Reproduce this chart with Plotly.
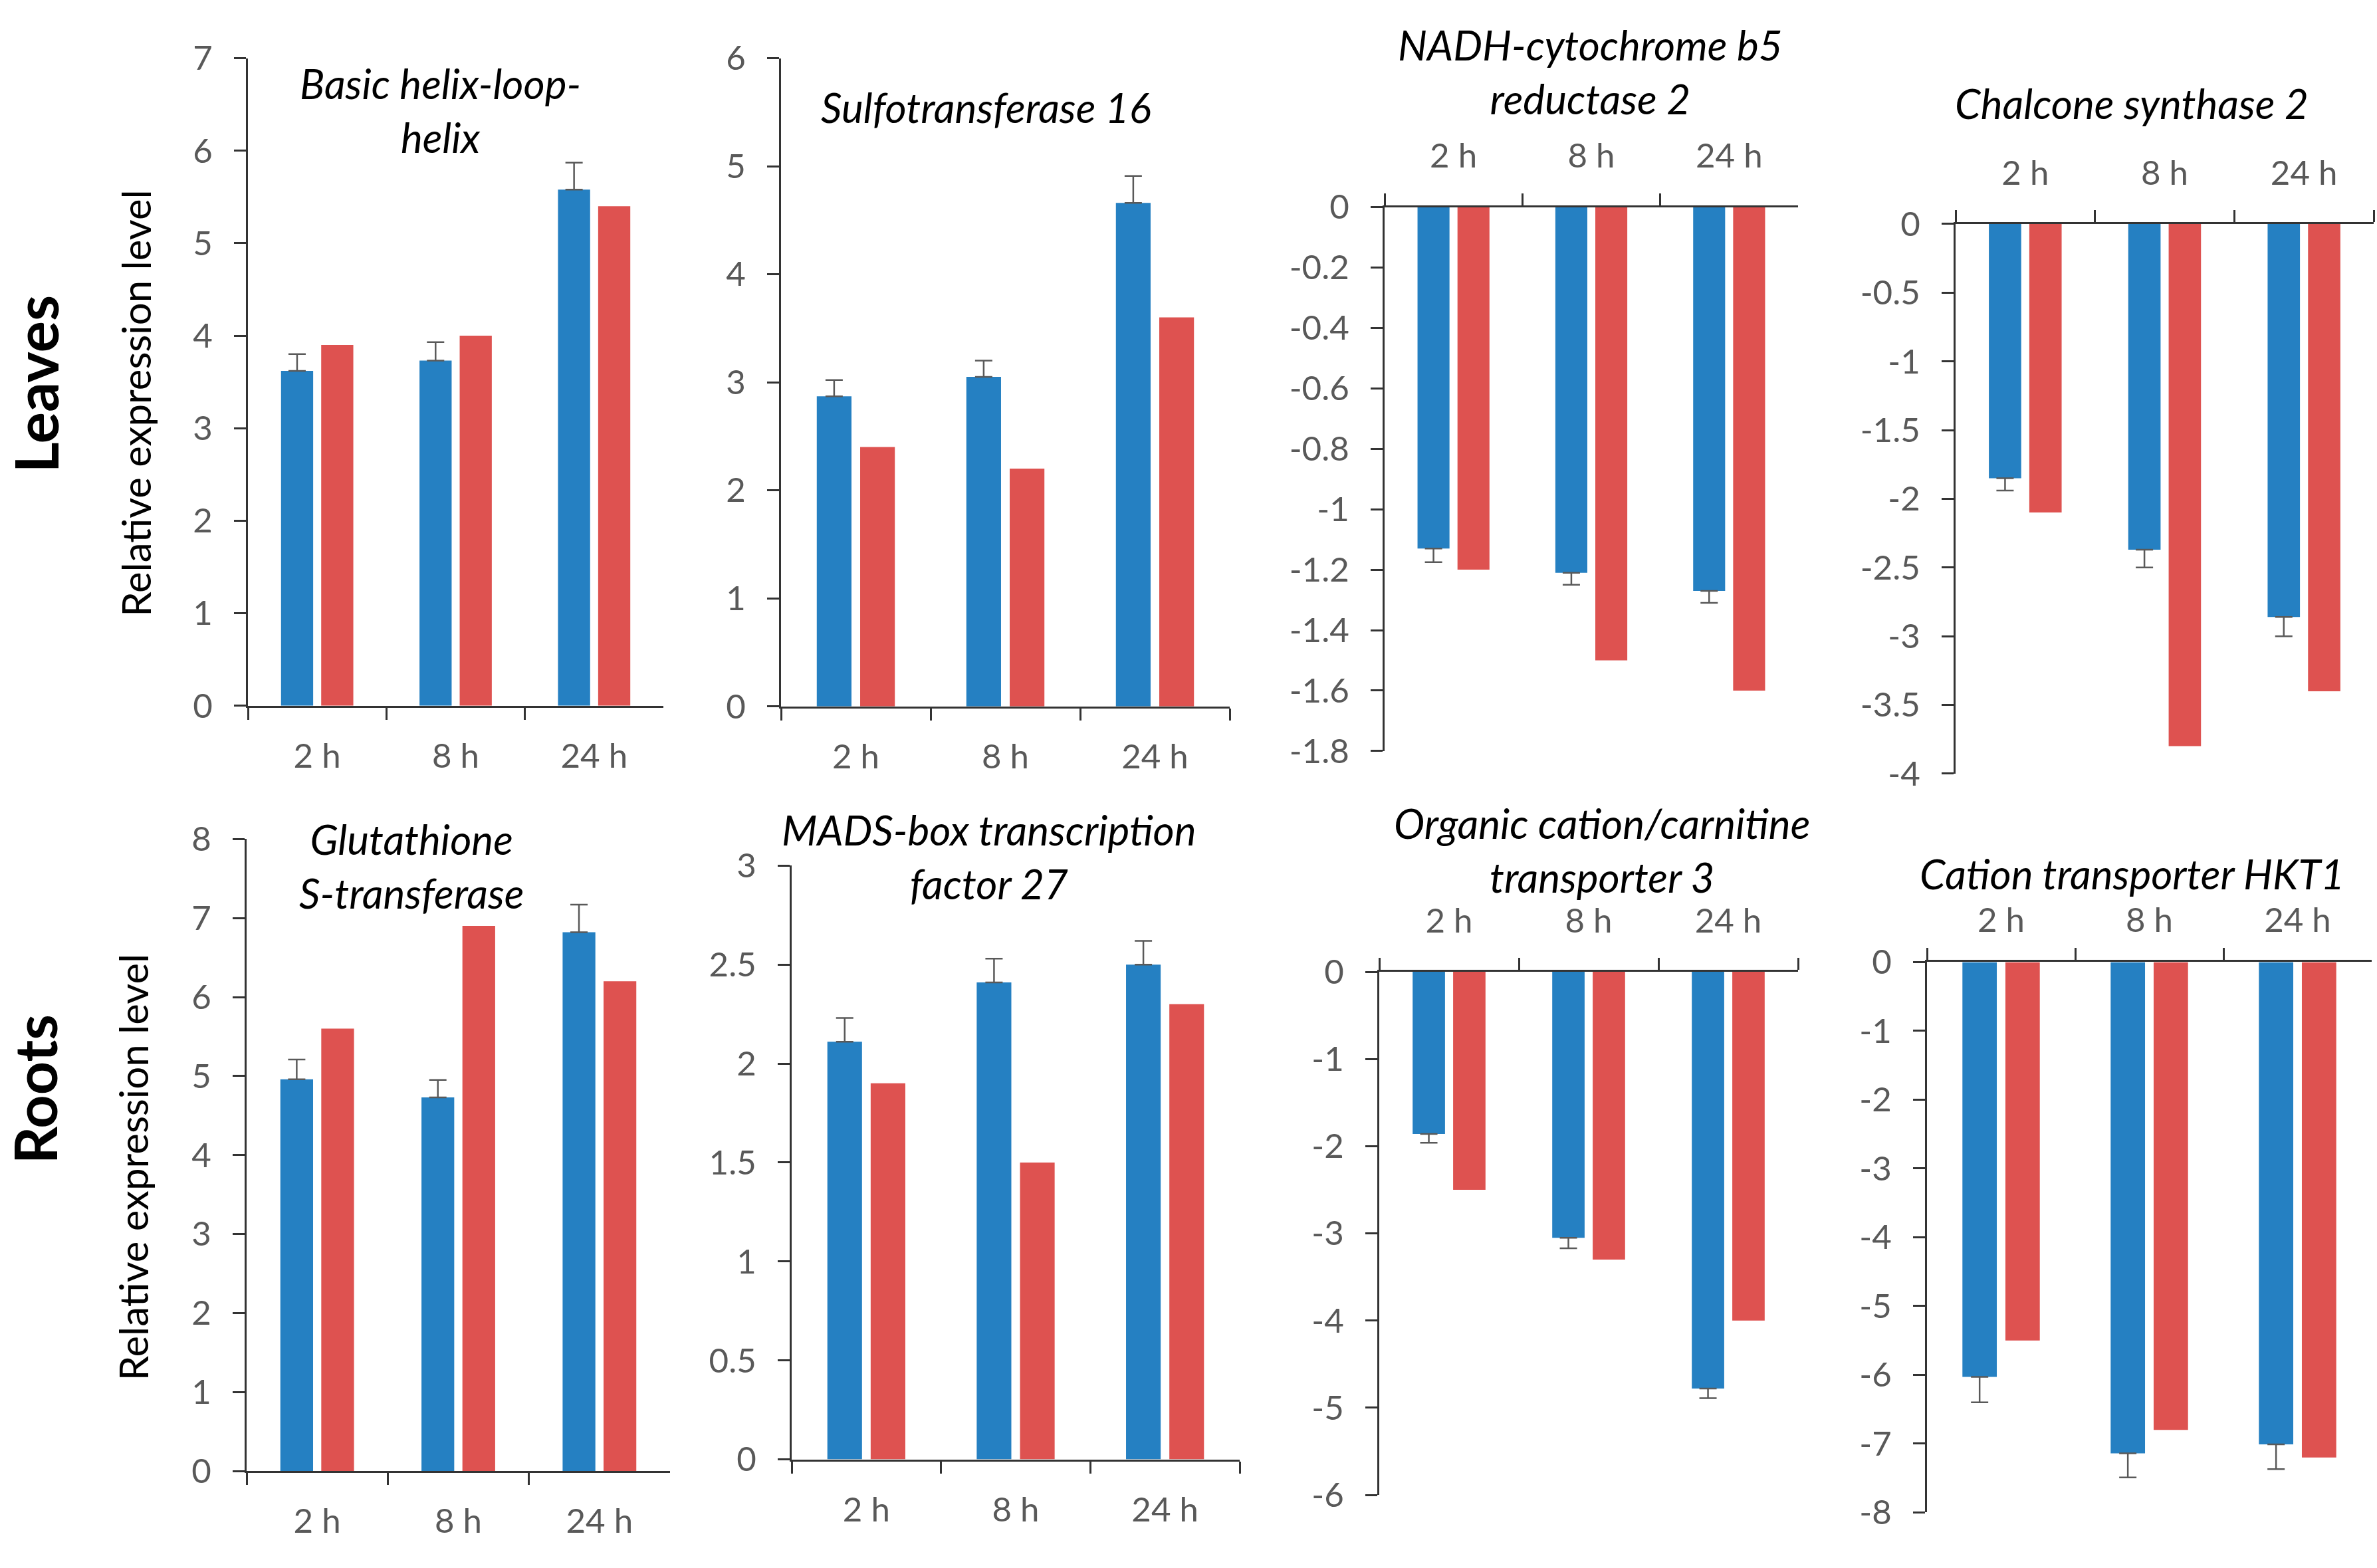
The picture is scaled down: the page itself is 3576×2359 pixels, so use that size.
import plotly.graph_objects as go

# ---------------- data ----------------
categories = ["2 h", "8 h", "24 h"]

titles = [
    "Basic helix-loop-<br>helix",
    "Sulfotransferase 16",
    "NADH-cytochrome b5<br>reductase 2",
    "Chalcone synthase 2",
    "Glutathione<br>S-transferase",
    "MADS-box transcription<br>factor 27",
    "Organic cation/carnitine<br>transporter 3",
    "Cation transporter HKT1",
]

# leaves
bhlh_blue = [3.62, 3.73, 5.58]
bhlh_err = [0.18, 0.20, 0.29]
bhlh_red = [3.9, 4.0, 5.4]

sult_blue = [2.87, 3.05, 4.66]
sult_err = [0.15, 0.15, 0.25]
sult_red = [2.4, 2.2, 3.6]

nadh_blue = [-1.13, -1.21, -1.27]
nadh_err = [0.045, 0.04, 0.04]
nadh_red = [-1.2, -1.5, -1.6]

chs_blue = [-1.85, -2.37, -2.86]
chs_err = [0.09, 0.13, 0.14]
chs_red = [-2.1, -3.8, -3.4]

# roots
gst_blue = [4.96, 4.73, 6.82]
gst_err = [0.25, 0.22, 0.35]
gst_red = [5.6, 6.9, 6.2]

mads_blue = [2.11, 2.41, 2.50]
mads_err = [0.12, 0.12, 0.12]
mads_red = [1.9, 1.5, 2.3]

oct_blue = [-1.86, -3.05, -4.78]
oct_err = [0.10, 0.12, 0.11]
oct_red = [-2.5, -3.3, -4.0]

hkt_blue = [-6.03, -7.14, -7.01]
hkt_err = [0.37, 0.35, 0.36]
hkt_red = [-5.5, -6.8, -7.2]

# y tick values / labels
ticks_bhlh = [0, 1, 2, 3, 4, 5, 6, 7]
labels_bhlh = ["0", "1", "2", "3", "4", "5", "6", "7"]
ticks_sult = [0, 1, 2, 3, 4, 5, 6]
labels_sult = ["0", "1", "2", "3", "4", "5", "6"]
ticks_nadh = [0, -0.2, -0.4, -0.6, -0.8, -1.0, -1.2, -1.4, -1.6, -1.8]
labels_nadh = ["0", "-0.2", "-0.4", "-0.6", "-0.8", "-1", "-1.2", "-1.4", "-1.6", "-1.8"]
ticks_chs = [0, -0.5, -1, -1.5, -2, -2.5, -3, -3.5, -4]
labels_chs = ["0", "-0.5", "-1", "-1.5", "-2", "-2.5", "-3", "-3.5", "-4"]
ticks_gst = [0, 1, 2, 3, 4, 5, 6, 7, 8]
labels_gst = ["0", "1", "2", "3", "4", "5", "6", "7", "8"]
ticks_mads = [0, 0.5, 1, 1.5, 2, 2.5, 3]
labels_mads = ["0", "0.5", "1", "1.5", "2", "2.5", "3"]
ticks_oct = [0, -1, -2, -3, -4, -5, -6]
labels_oct = ["0", "-1", "-2", "-3", "-4", "-5", "-6"]
ticks_hkt = [0, -1, -2, -3, -4, -5, -6, -7, -8]
labels_hkt = ["0", "-1", "-2", "-3", "-4", "-5", "-6", "-7", "-8"]

# ---------------- layout (pixel geometry) ----------------
W, H = 3576, 2359


def px(x):
    return x / W


def py(y):
    return 1 - y / H


panels = [
    dict(blue=bhlh_blue, err=bhlh_err, red=bhlh_red, rng=[0, 7], tv=ticks_bhlh, tt=labels_bhlh,
         xs=(373, 998), ys=(57, 1057), tpos=(662, 137), side="bottom", stand=29),
    dict(blue=sult_blue, err=sult_err, red=sult_red, rng=[0, 6], tv=ticks_sult, tt=labels_sult,
         xs=(1175, 1850), ys=(57, 1058), tpos=(1483, 132), side="bottom", stand=29),
    dict(blue=nadh_blue, err=nadh_err, red=nadh_red, rng=[-1.8, 0], tv=ticks_nadh, tt=labels_nadh,
         xs=(2083, 2705), ys=(287, 1127), tpos=(2392, 78), side="top", stand=36),
    dict(blue=chs_blue, err=chs_err, red=chs_red, rng=[-4, 0], tv=ticks_chs, tt=labels_chs,
         xs=(2942, 3571), ys=(313, 1162), tpos=(3207, 126), side="top", stand=36),
    dict(blue=gst_blue, err=gst_err, red=gst_red, rng=[0, 8], tv=ticks_gst, tt=labels_gst,
         xs=(371, 1008), ys=(1263, 2239), tpos=(619, 1304), side="bottom", stand=29),
    dict(blue=mads_blue, err=mads_err, red=mads_red, rng=[0, 3], tv=ticks_mads, tt=labels_mads,
         xs=(1191, 1865), ys=(1304, 2221), tpos=(1488, 1290), side="bottom", stand=29),
    dict(blue=oct_blue, err=oct_err, red=oct_red, rng=[-6, 0], tv=ticks_oct, tt=labels_oct,
         xs=(2075, 2705), ys=(1468, 2276), tpos=(2410, 1280), side="top", stand=36),
    dict(blue=hkt_blue, err=hkt_err, red=hkt_red, rng=[-8, 0], tv=ticks_hkt, tt=labels_hkt,
         xs=(2899, 3568), ys=(1453, 2303), tpos=(3207, 1316), side="top", stand=22),
]

BLUE = "#2580C2"
RED = "#DE5250"
AXIS = "#333333"
TICKTXT = "#595959"
FONT = "Lato, 'Open Sans', sans-serif"
TICK_SIZE = 51
TITLE_SIZE = 62

fig = go.Figure()
annotations = []

for i, p in enumerate(panels, start=1):
    xa = f"x{i}"
    ya = f"y{i}"
    neg = p["rng"][1] == 0 and p["rng"][0] < 0
    zeros = [0] * len(categories)
    err = dict(type="data", symmetric=False,
               array=zeros if neg else p["err"],
               arrayminus=p["err"] if neg else zeros,
               color="#595959", thickness=2.5, width=13)
    fig.add_trace(go.Bar(x=categories, y=p["blue"], marker=dict(color=BLUE, line=dict(width=0)),
                         error_y=err, xaxis=xa, yaxis=ya, showlegend=False))
    fig.add_trace(go.Bar(x=categories, y=p["red"], marker=dict(color=RED, line=dict(width=0)),
                         xaxis=xa, yaxis=ya, showlegend=False))

    key = "" if i == 1 else str(i)
    fig.layout[f"xaxis{key}"] = dict(
        type="category", categoryorder="array", categoryarray=categories,
        domain=[px(p["xs"][0]), px(p["xs"][1])], anchor=ya, side=p["side"],
        showline=True, linecolor=AXIS, linewidth=3,
        ticks="outside", tickson="boundaries", ticklen=18, tickwidth=3, tickcolor=AXIS,
        tickfont=dict(family=FONT, size=TICK_SIZE, color=TICKTXT),
        ticklabelstandoff=p["stand"],
        showgrid=False, zeroline=False, fixedrange=True,
    )
    fig.layout[f"yaxis{key}"] = dict(
        domain=[py(p["ys"][1]), py(p["ys"][0])], anchor=xa, range=p["rng"],
        tickmode="array", tickvals=p["tv"], ticktext=p["tt"],
        showline=True, linecolor=AXIS, linewidth=3,
        ticks="outside", ticklen=18, tickwidth=3, tickcolor=AXIS,
        tickfont=dict(family=FONT, size=TICK_SIZE, color=TICKTXT),
        ticklabelstandoff=22,
        showgrid=False, zeroline=False, fixedrange=True,
    )
    annotations.append(dict(
        text=f"<i>{titles[i - 1]}</i>", xref="paper", yref="paper",
        x=px(p["tpos"][0]), y=py(p["tpos"][1]), xanchor="center", yanchor="middle",
        showarrow=False, font=dict(family=FONT, size=TITLE_SIZE, color="black"),
    ))

# row labels and y titles
for text, xc, yc, size, bold in [
    ("Leaves", 54, 560, 89, True),
    ("Roots", 52, 1650, 88, True),
    ("Relative expression level", 204, 590, 60, False),
    ("Relative expression level", 200, 1770, 60, False),
]:
    annotations.append(dict(
        text=f"<b>{text}</b>" if bold else text, xref="paper", yref="paper",
        x=px(xc), y=py(yc), xanchor="center", yanchor="middle", textangle=-90,
        showarrow=False, font=dict(family=FONT, size=size, color="black"),
    ))

fig.update_layout(
    width=W, height=H, autosize=False,
    margin=dict(l=0, r=0, t=0, b=0),
    paper_bgcolor="white", plot_bgcolor="white",
    barmode="group", bargap=0.42, bargroupgap=0.2,
    annotations=annotations,
    font=dict(family=FONT),
)

fig.write_html("out.html", config={"displayModeBar": False},
               post_script="document.body.style.margin='0';")
